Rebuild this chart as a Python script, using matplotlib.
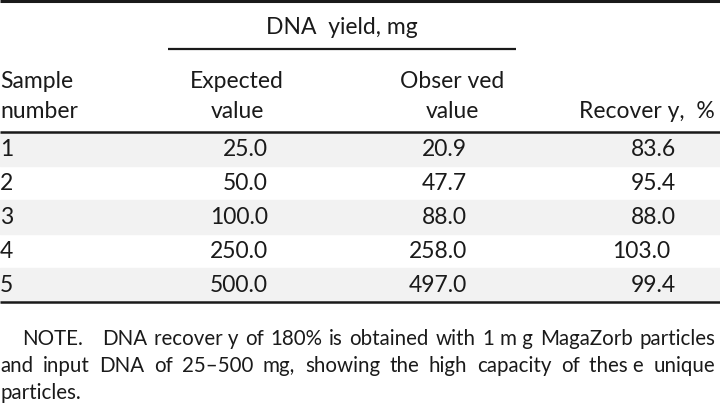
import matplotlib.pyplot as plt

samples = ["1", "2", "3", "4", "5"]
expected = [25.0, 50.0, 100.0, 250.0, 500.0]
observed = [20.9, 47.7, 88.0, 258.0, 497.0]
recovery = ["83.6", "95.4", "88.0", "103.0", "99.4"]

note_lines = [
    ["NOTE.", "DNA", "recover y", "of", "180%", "is", "obtained", "with", "1", "m g", "MagaZorb", "particles"],
    ["and", "input", "DNA", "of", "25\u2013500", "mg,", "showing", "the", "high", "capacity", "of", "thes e", "unique"],
    ["particles."],
]

FONT = "Lato"
FS = 16.5
NOTE_FS = 14.8
INK = "#1a1a1a"

fig = plt.figure(figsize=(7.2, 4.1), dpi=100)
ax = fig.add_axes([0, 0, 1, 1])
ax.set_xlim(0, 720)
ax.set_ylim(410, 0)
ax.axis("off")

def txt(x, y, s, ha="left", size=FS, **kw):
    return ax.text(x, y, s, ha=ha, va="center", fontsize=size, family=FONT, color=INK, **kw)

# rules
ax.plot([0, 720], [1.5, 1.5], color=INK, lw=2.2, solid_capstyle="butt")
ax.plot([168, 516], [50, 50], color=INK, lw=1.6, solid_capstyle="butt")

# header
txt(342, 28, "DNA  yield, mg", ha="center")
txt(0, 82, "Sample")
txt(0, 112, "number")
txt(237, 82, "Expected", ha="center")
txt(237, 112, "value", ha="center")
txt(452, 82, "Obser ved", ha="center")
txt(452, 112, "value", ha="center")
txt(715, 112, "Recover y,  %", ha="right")

# body rows
top = 133
rh = 34
for i in range(len(samples)):
    y0 = top + i * rh
    if i % 2 == 0:
        ax.axhspan(y0, y0 + rh, color="#f2f2f2", zorder=0)
    yc = y0 + rh / 2
    txt(0, yc, samples[i])
    txt(268, yc, f"{expected[i]:.1f}", ha="right")
    txt(467, yc, f"{observed[i]:.1f}", ha="right")
    txt(676 if recovery[i] != "103.0" else 670, yc, recovery[i], ha="right")

ax.plot([0, 720], [133, 133], color=INK, lw=1.8, solid_capstyle="butt")
ax.plot([0, 720], [top + 5 * rh, top + 5 * rh], color=INK, lw=1.8, solid_capstyle="butt")

# justified note
fig.canvas.draw()
r = fig.canvas.get_renderer()
note_y = [339, 366, 393]
starts = [22, 0, 0]
right = 715
for li, words in enumerate(note_lines):
    objs = [txt(0, note_y[li], w, size=NOTE_FS) for w in words]
    widths = [o.get_window_extent(r).width for o in objs]
    x = starts[li]
    if li < len(note_lines) - 1:
        # the gap after "NOTE." is about three ordinary gaps wide
        extra = 2 if li == 0 else 0
        gap = (right - starts[li] - sum(widths)) / (len(words) - 1 + extra)
    else:
        extra = 0
        gap = 6
    for k, (o, w) in enumerate(zip(objs, widths)):
        o.set_x(x)
        x += w + gap * (1 + extra if k == 0 else 1)

fig.savefig("out.png", dpi=100)
